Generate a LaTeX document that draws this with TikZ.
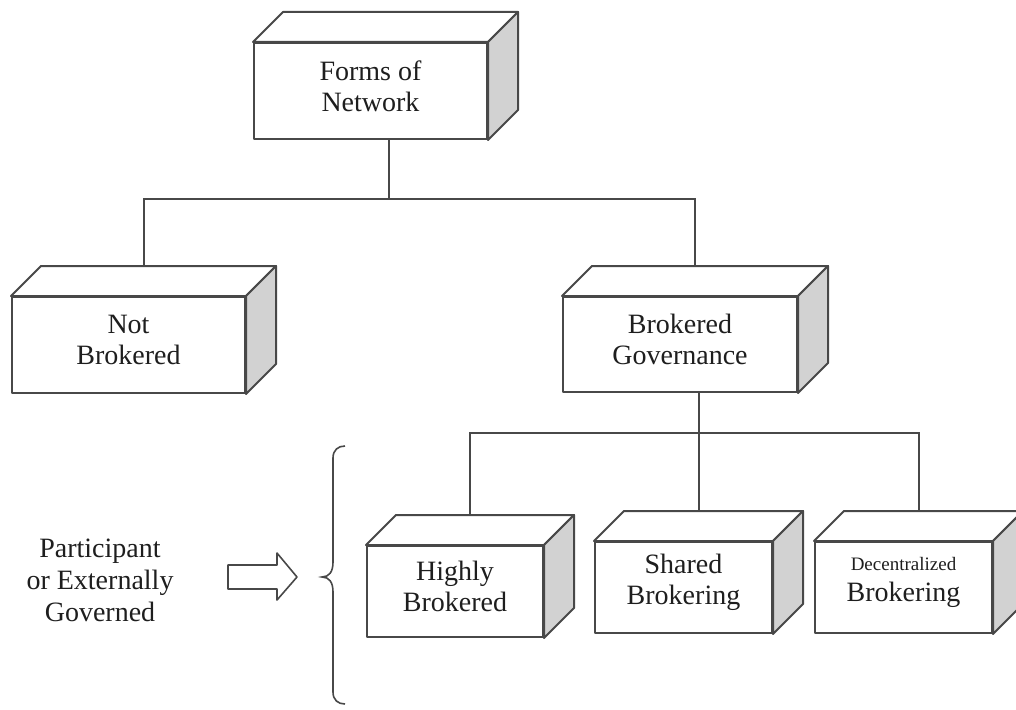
\documentclass[tikz,border=0pt]{standalone}
\usepackage{fontspec}
\setmainfont{Liberation Serif}
\begin{document}
\definecolor{edge}{HTML}{484848}
\definecolor{sidegray}{HTML}{D2D2D2}
\definecolor{ink}{HTML}{1E1E1E}
\tikzset{
  boxface/.style={draw=edge, line width=2pt, line join=round},
  frontface/.style={boxface, fill=white, inner sep=0pt},
  boxtext/.style={align=center, inner sep=0pt, text=ink,
    font=\fontsize{28}{31}\selectfont},
  conn/.style={draw=edge, line width=2pt},
}
% 3D box: name, centre of front face (x,y), width, height, text
\newcommand{\cubebox}[6]{%
  \node[frontface, minimum width=#4pt, minimum height=#5pt] (#1) at (#2,#3) {};
  \filldraw[boxface, fill=white] (#1.north west) -- ++(30,-30)
     -- ([shift={(30,-30)}]#1.north east) -- (#1.north east) -- cycle;
  \filldraw[boxface, fill=sidegray] (#1.north east) -- ++(30,-30)
     -- ([shift={(30,-30)}]#1.south east) -- (#1.south east) -- cycle;
  \node[boxtext] (#1-txt) at ([yshift=5pt]#1.center) {#6};
  \coordinate (#1-b) at ([shift={(15,-30)}]#1.north);
}
\begin{tikzpicture}[x=1pt, y=-1pt]
  \useasboundingbox (0,0) rectangle (1016,709);
  \clip (0,0) rectangle (1016,709);

  \cubebox{top}{370.5}{91}{233}{96}{Forms of\\Network}
  \cubebox{nb}{128.5}{345}{233}{96}{Not\\Brokered}
  \cubebox{bg}{680}{344.5}{234}{95}{Brokered\\Governance}
  \cubebox{hb}{455}{591.5}{176}{91}{Highly\\Brokered}
  \cubebox{sb}{683.5}{587.5}{177}{91}{Shared\\Brokering}
  \cubebox{db}{903.5}{587.5}{177}{91}{{\fontsize{19}{22}\selectfont Decentralized}\\Brokering}

  % connectors
  \coordinate (bar1) at (389,199);
  \draw[conn] (top.south -| bar1) -- (bar1);
  \draw[conn] (nb-b) |- (bar1) -| (bg-b);
  \coordinate (bar2) at (699,433);
  \draw[conn] (bg.south -| bar2) -- (bar2);
  \draw[conn] (hb-b) |- (bar2) -| (db-b);
  \draw[conn] (bar2) -- (sb-b |- bar2) -- (sb-b);

  % side label, block arrow and brace
  \node[align=center, text=ink, font=\fontsize{28}{32}\selectfont] (lab) at (100,580)
    {Participant\\or Externally\\Governed};
  \filldraw[boxface, fill=white, line width=1.6pt]
    (228,565) -- (277,565) -- (277,553) -- (297,577) -- (277,600)
    -- (277,589) -- (228,589) -- cycle;
  \draw[edge, line width=1.6pt]
    (345,446) .. controls (338,446) and (333,450) .. (333,458)
    -- (333,562) .. controls (333,572) and (329,577) .. (322,577)
    .. controls (329,577) and (333,582) .. (333,592)
    -- (333,692) .. controls (333,700) and (338,704) .. (345,704);
\end{tikzpicture}
\end{document}
